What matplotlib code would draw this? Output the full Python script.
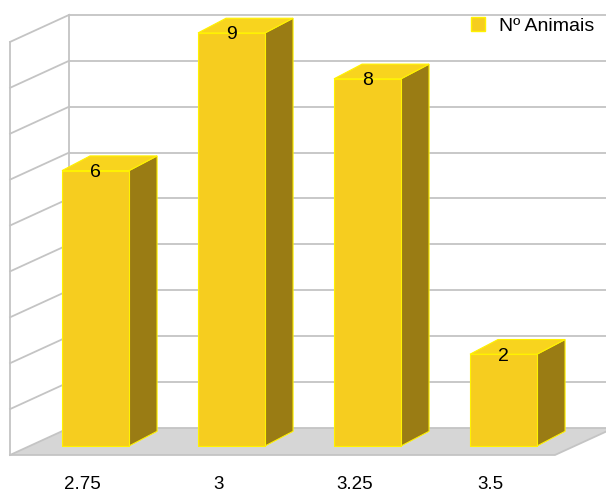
import matplotlib.pyplot as plt
from matplotlib.patches import Polygon, Patch

plt.rcParams['font.family'] = ['Liberation Sans', 'DejaVu Sans']

# bar data
categories = ["2.75", "3", "3.25", "3.5"]
animals = [6, 9, 8, 2]
series_name = "Nº Animais"

front_color = "#F6CD1F"
top_color = "#F8D41E"
side_color = "#9A7C14"
edge_color = "#FFF200"
grid_color = "#C4C4C4"
floor_color = "#D6D6D6"

# oblique projection: bar width/depth and the wall depth, in data units
bar_w = 0.493
bar_dx, bar_dy = 0.206, 0.32
wall_dx, wall_dy = 0.435, 0.59
floor_y = -0.196
left_x = -0.382
right_x = 3.625
n_grid = 9

fig = plt.figure(figsize=(6.06, 4.94), dpi=100)
ax = fig.add_axes([0, 0, 1, 1])
ax.set_xlim(-0.456, 4.0)
ax.set_ylim(-1.046, 9.717)
ax.axis("off")

# floor
floor = Polygon([(left_x, floor_y), (right_x, floor_y),
                 (right_x + wall_dx, floor_y + wall_dy),
                 (left_x + wall_dx, floor_y + wall_dy)],
                closed=True, facecolor=floor_color, edgecolor="none", zorder=1)
ax.add_patch(floor)
ax.plot([left_x, right_x, right_x + wall_dx],
        [floor_y, floor_y, floor_y + wall_dy], color=grid_color, lw=1.3, zorder=2)

# back wall gridlines and left wall
for k in range(n_grid + 1):
    yb = floor_y + wall_dy + k
    ax.plot([left_x + wall_dx, right_x + wall_dx + 1], [yb, yb],
            color=grid_color, lw=1.3, zorder=1.5)
    ax.plot([left_x, left_x + wall_dx], [floor_y + k, yb],
            color=grid_color, lw=1.3, zorder=1.5)
ax.plot([left_x, left_x], [floor_y, floor_y + n_grid], color=grid_color, lw=1.3, zorder=1.5)
ax.plot([left_x + wall_dx] * 2, [floor_y + wall_dy, floor_y + wall_dy + n_grid],
        color=grid_color, lw=1.3, zorder=1.5)

# 3d bars
for i, v in enumerate(animals):
    x0, x1 = i, i + bar_w
    side = Polygon([(x1, 0), (x1 + bar_dx, bar_dy), (x1 + bar_dx, v + bar_dy), (x1, v)],
                   closed=True, facecolor=side_color, edgecolor=edge_color, lw=0.8, zorder=3)
    top = Polygon([(x0, v), (x1, v), (x1 + bar_dx, v + bar_dy), (x0 + bar_dx, v + bar_dy)],
                  closed=True, facecolor=top_color, edgecolor=edge_color, lw=0.8, zorder=3)
    front = Polygon([(x0, 0), (x1, 0), (x1, v), (x0, v)],
                    closed=True, facecolor=front_color, edgecolor=edge_color, lw=0.8, zorder=4)
    ax.add_patch(side)
    ax.add_patch(top)
    ax.add_patch(front)
    ax.text(i + bar_w / 2, v - 0.04, str(v), ha="center", va="center", fontsize=14, zorder=5)

# category labels under the floor
for i, c in enumerate(categories):
    ax.text(i + 0.15, -0.84, c, ha="center", va="center", fontsize=13.5)

handle = Patch(facecolor=front_color, edgecolor=edge_color, label=series_name)
ax.legend(handles=[handle], loc="upper right", bbox_to_anchor=(1.0, 0.99),
          frameon=False, fontsize=14, handlelength=0.75, handleheight=0.75,
          handletextpad=0.7, borderaxespad=0.2)

fig.savefig("out.png", dpi=100)
